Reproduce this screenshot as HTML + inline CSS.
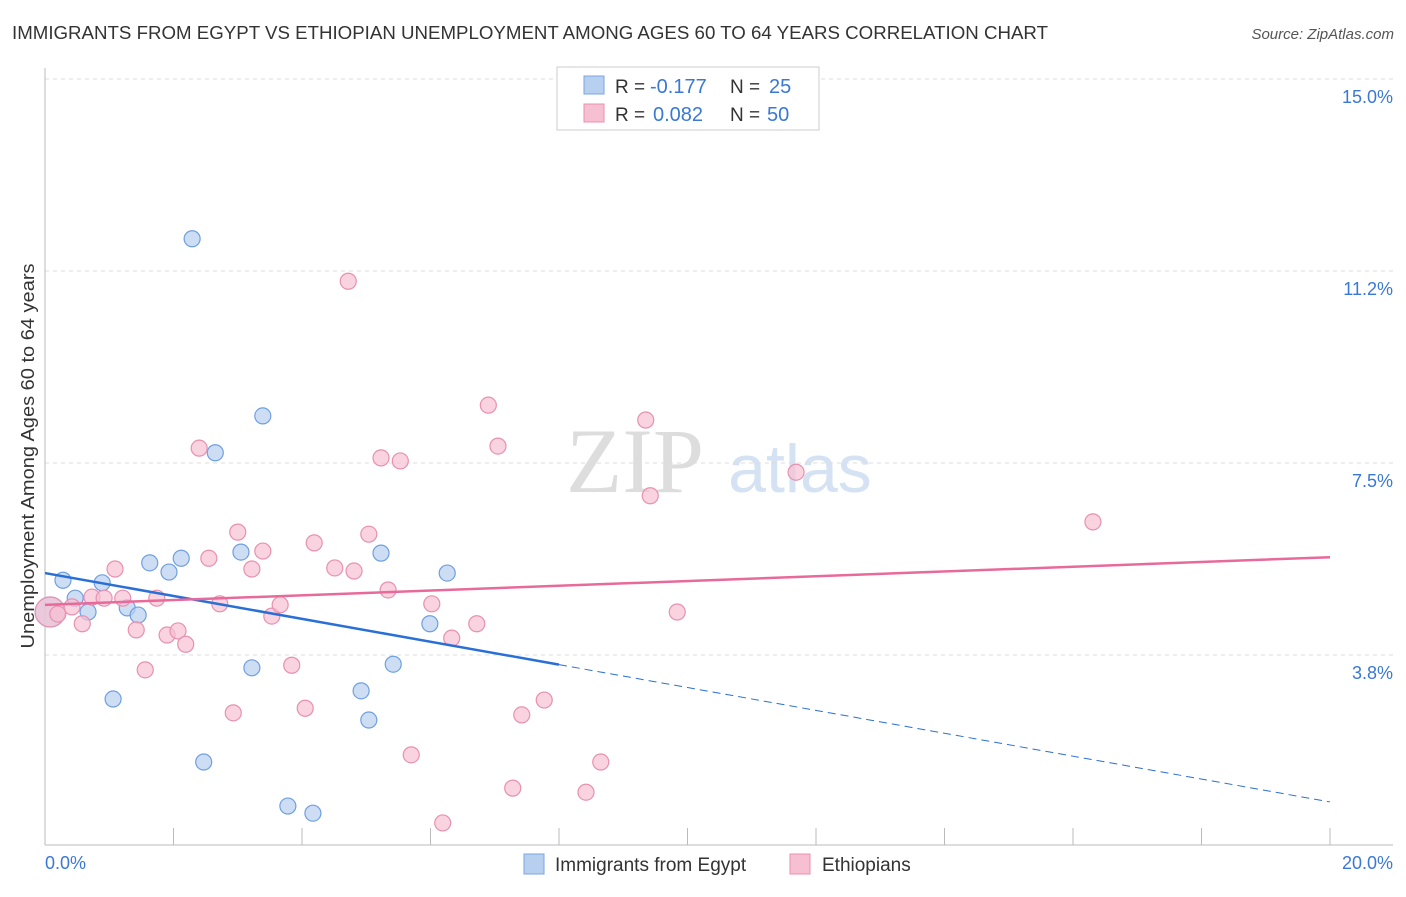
<!DOCTYPE html>
<html><head><meta charset="utf-8"><style>
body{margin:0;background:#fff;font-family:"Liberation Sans",sans-serif;}
</style></head><body>
<svg id="c" width="1406" height="892" xmlns="http://www.w3.org/2000/svg">
<text x="12" y="39" font-size="18" fill="#333" textLength="1036" lengthAdjust="spacingAndGlyphs">IMMIGRANTS FROM EGYPT VS ETHIOPIAN UNEMPLOYMENT AMONG AGES 60 TO 64 YEARS CORRELATION CHART</text>
<text x="1394" y="39" font-size="15" fill="#555" font-style="italic" text-anchor="end">Source: ZipAtlas.com</text>
<text x="635" y="492" font-size="92" fill="#ddd" font-family="Liberation Serif" text-anchor="middle">ZIP</text>
<text x="800" y="492" font-size="68" fill="#d5e2f3" text-anchor="middle">atlas</text>
<g id="grid"></g><g id="ticks"></g>
<line x1="45" y1="68" x2="45" y2="845" stroke="#bbb"/>
<line x1="45" y1="845" x2="1393" y2="845" stroke="#bbb"/>
<text x="34" y="456" font-size="18" fill="#333" text-anchor="middle" textLength="385" lengthAdjust="spacingAndGlyphs" transform="rotate(-90 34 456)">Unemployment Among Ages 60 to 64 years</text>
<text x="45" y="869" font-size="18" fill="#3a78d6">0.0%</text>
<text x="1393" y="869" font-size="18" fill="#3a78d6" text-anchor="end">20.0%</text>
<g id="marks"></g>
<g>
<rect x="557" y="67" width="262" height="63" fill="#fff" stroke="#ccc"/>
<rect x="584" y="76" width="20" height="18" fill="#b8d0f0" stroke="#7aa6e0"/>
<rect x="584" y="104" width="20" height="18" fill="#f7c0d2" stroke="#e890b0"/>
<text x="615" y="93" font-size="19" fill="#333">R =</text>
<text x="650" y="93" font-size="20" fill="#3a78d6">-0.177</text>
<text x="730" y="93" font-size="19" fill="#333">N =</text>
<text x="769" y="93" font-size="20" fill="#3a78d6">25</text>
<text x="615" y="121" font-size="19" fill="#333">R =</text>
<text x="653" y="121" font-size="20" fill="#3a78d6">0.082</text>
<text x="730" y="121" font-size="19" fill="#333">N =</text>
<text x="767" y="121" font-size="20" fill="#3a78d6">50</text>
</g>
<g><rect x="524" y="854" width="20" height="20" fill="#b8d0f0" stroke="#7aa6e0"/><text x="555" y="871" font-size="19" fill="#333">Immigrants from Egypt</text></g>
<g><rect x="790" y="854" width="20" height="20" fill="#f7c0d2" stroke="#e890b0"/><text x="822" y="871" font-size="19" fill="#333">Ethiopians</text></g>
</svg>
<script>
const yTicks=[15.0,11.25,7.5,3.75];
const yTickLabels=["15.0%","11.2%","7.5%","3.8%"];
const xTicks=[0,2,4,6,8,10,12,14,16,18,20];
const egyptX=[0.08,0.28,0.47,0.67,0.89,1.06,1.28,1.45,1.63,1.93,2.12,2.29,2.47,2.65,3.05,3.22,3.39,3.78,4.17,4.92,5.04,5.23,5.42,5.99,6.26];
const egyptY=[4.59,5.21,4.86,4.59,5.16,2.89,4.67,4.53,5.55,5.37,5.64,11.88,1.66,7.70,5.76,3.50,8.42,0.80,0.66,3.05,2.48,5.74,3.57,4.36,5.35];
const ethX=[0.08,0.20,0.42,0.58,0.73,0.92,1.09,1.21,1.42,1.56,1.74,1.90,2.07,2.19,2.40,2.55,2.72,2.93,3.00,3.22,3.39,3.53,3.66,3.84,4.05,4.19,4.51,4.72,4.81,5.04,5.23,5.34,5.53,5.70,6.02,6.19,6.33,6.72,6.90,7.05,7.28,7.42,7.77,8.42,8.65,9.35,9.42,9.84,11.69,16.31];
const ethY=[4.59,4.55,4.69,4.36,4.88,4.86,5.43,4.86,4.24,3.46,4.86,4.14,4.22,3.96,7.79,5.64,4.75,2.62,6.15,5.43,5.78,4.51,4.73,3.55,2.71,5.94,5.45,11.05,5.39,6.11,7.60,5.02,7.54,1.80,4.75,0.47,4.08,4.36,8.63,7.83,1.15,2.58,2.87,1.07,1.66,8.34,6.86,4.59,7.32,6.35];
const egyptTrend=[5.35,0.88];
const ethTrend=[4.73,5.66];
const X=v=>45+v/20*1285, Y=v=>847-v*51.2;
const NS="http://www.w3.org/2000/svg";
function mk(t,a,p){const e=document.createElementNS(NS,t);for(const k in a)e.setAttribute(k,a[k]);p.appendChild(e);return e;}
const g=document.getElementById('grid'),tk=document.getElementById('ticks'),m=document.getElementById('marks');
yTicks.forEach((v,i)=>{
 const l=mk('line',{x1:45,x2:1393,y1:Y(v),y2:Y(v),stroke:'#ddd','stroke-dasharray':'4,4'},g);
 
 
 const t=mk('text',{x:1393,y:Y(v)+24,'font-size':18,fill:'#3a78d6','text-anchor':'end'},g);
 t.textContent=yTickLabels[i];
 
 
});
xTicks.forEach(v=>{
 const l=mk('line',{x1:X(v),x2:X(v),y1:828,y2:845,stroke:'#bbb'},tk);
 
 
});
function pts(xs,ys,fill,stroke,name){
 xs.forEach((x,i)=>{
  const c=mk('circle',{cx:X(x),cy:Y(ys[i]),r:i==0?15:8,fill:fill,'fill-opacity':0.7,stroke:stroke,'stroke-width':1.2},m);
  
  
 });
}
pts(egyptX,egyptY,'#b8d0f0','#6f9fe0','egypt-point');
pts(ethX,ethY,'#f7c0d2','#e890b0','ethiopian-point');
const lerp=(t,x)=>t[0]+(t[1]-t[0])*x/20;
let l=mk('line',{x1:X(0),y1:Y(lerp(egyptTrend,0)),x2:X(8),y2:Y(lerp(egyptTrend,8)),stroke:'#2a6fd6','stroke-width':2.5},m);


l=mk('line',{x1:X(8),y1:Y(lerp(egyptTrend,8)),x2:X(20),y2:Y(lerp(egyptTrend,20)),stroke:'#2a6fd6','stroke-width':1,'stroke-dasharray':'8,5'},m);


l=mk('line',{x1:X(0),y1:Y(lerp(ethTrend,0)),x2:X(20),y2:Y(lerp(ethTrend,20)),stroke:'#e86a9a','stroke-width':2.5},m);


</script>
</body></html>
